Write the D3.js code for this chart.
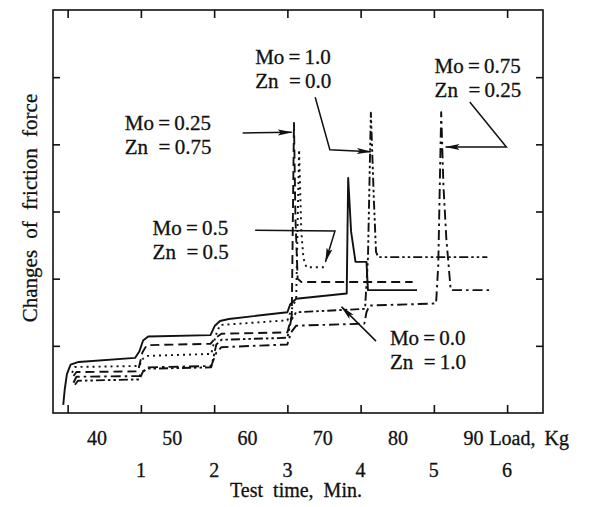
<!DOCTYPE html>
<html>
<head>
<meta charset="utf-8">
<script src="https://cdn.jsdelivr.net/npm/d3@7"></script>
<style>
  body { margin: 0; background: #fff; }
  svg { display: block; }
  text { font-family: "Liberation Serif", "Times New Roman", serif; fill: #111; stroke: #111; stroke-width: 0.3px; }
</style>
</head>
<body>
<div id="chart"></div>
<script>
// test time (min) and friction change (chart divisions)

// Mo=0.0, Zn=1.0 (solid)
var mo00_t = [-0.06, -0.04, -0.01, 0.04, 0.15, 0.92, 0.98, 1.03, 1.10, 1.95, 2.01, 2.08, 2.20, 3.00, 3.04, 3.12, 3.81, 3.83, 3.87, 3.93, 4.08, 4.10, 4.77];
var mo00_f = [0.12, 0.35, 0.58, 0.72, 0.76, 0.82, 0.92, 1.08, 1.14, 1.16, 1.30, 1.37, 1.40, 1.50, 1.62, 1.70, 1.78, 3.50, 2.70, 2.25, 2.25, 1.83, 1.83];

// Mo=0.25, Zn=0.75 (dashed)
var mo025_t = [0.08, 0.12, 0.96, 1.02, 1.08, 1.95, 2.02, 2.10, 3.00, 3.06, 3.09, 3.11, 3.14, 3.19, 4.71];
var mo025_f = [0.55, 0.61, 0.62, 0.90, 1.01, 1.03, 1.12, 1.18, 1.20, 1.45, 4.32, 2.90, 2.00, 1.95, 1.95];

// Mo=0.5, Zn=0.5 (dotted)
var mo05_t = [0.06, 0.10, 0.98, 1.02, 1.08, 1.96, 2.02, 2.08, 3.00, 3.06, 3.12, 3.16, 3.19, 3.22, 3.26, 3.50];
var mo05_f = [0.60, 0.685, 0.70, 0.80, 0.85, 0.88, 1.15, 1.31, 1.38, 1.55, 1.70, 3.92, 2.70, 2.30, 2.17, 2.17];

// Mo=0.75, Zn=0.25 (dash-dot)
var mo075_t = [0.08, 0.12, 0.98, 1.03, 1.10, 1.96, 2.03, 2.10, 3.00, 3.05, 3.12, 4.05, 4.08, 4.12, 5.03, 5.06, 5.10, 5.13, 5.17, 5.23, 5.76];
var mo075_f = [0.45, 0.54, 0.55, 0.62, 0.68, 0.70, 0.90, 0.98, 1.02, 1.20, 1.30, 1.33, 1.50, 1.60, 1.63, 2.20, 4.48, 3.40, 2.60, 1.83, 1.83];

// Mo=1.0, Zn=0.0 (dash-dot-dot)
var mo10_t = [0.10, 0.14, 0.98, 1.03, 1.10, 1.96, 2.03, 2.10, 3.00, 3.05, 3.12, 4.06, 4.10, 4.14, 4.18, 4.21, 4.24, 5.73];
var mo10_f = [0.42, 0.48, 0.50, 0.62, 0.66, 0.68, 1.02, 1.09, 1.12, 1.38, 1.50, 1.55, 2.30, 4.47, 3.20, 2.40, 2.32, 2.32];

var timeTicks = [0, 1, 2, 3, 4, 5, 6];
var timeLabels = [1, 2, 3, 4, 5, 6];
var loadLabels = [40, 50, 60, 70, 80, 90];
var forceTicks = [1, 2, 3, 4, 5];

// label text, its anchor (t, f) and the arrow path pointing at its curve
var labelLines = [
    ["Mo\u2009=\u20090.0", "Zn\u2002=\u20091.0"],
    ["Mo\u2009=\u20090.25", "Zn\u2002=\u20090.75"],
    ["Mo\u2009=\u20090.5", "Zn\u2002=\u20090.5"],
    ["Mo\u2009=\u20090.75", "Zn\u2002=\u20090.25"],
    ["Mo\u2009=\u20091.0", "Zn\u2002=\u20090.0"]
];
var labelAt = [[4.40, 1.01], [0.78, 4.21], [1.16, 2.65], [5.01, 5.06], [2.56, 5.20]];
var arrowPaths = [
    [[4.21, 1.07], [3.74, 1.58]],
    [[2.39, 4.17], [3.06, 4.18]],
    [[2.56, 2.72], [3.65, 2.71], [3.52, 2.25]],
    [[5.49, 4.63], [5.99, 3.96], [5.16, 3.96]],
    [[3.38, 4.70], [3.58, 3.92], [4.14, 3.89]]
];

var width = 597;
var height = 507;

var svg = d3.select("#chart")
    .append("svg")
    .attr("width", width)
    .attr("height", height);

var x = d3.scaleLinear().domain([-0.2, 6.49]).range([53, 543]);
var y = d3.scaleLinear().domain([0, 6]).range([413, 10]);
var loadToTime = d3.scaleLinear().domain([40, 90]).range([0.40, 5.54]);

svg.append("defs").append("marker")
    .attr("id", "head")
    .attr("markerUnits", "userSpaceOnUse")
    .attr("viewBox", "0 -4 15 8")
    .attr("refX", 14)
    .attr("refY", 0)
    .attr("markerWidth", 15)
    .attr("markerHeight", 8)
    .attr("orient", "auto")
    .append("path")
    .attr("d", "M0,-3L15,0L0,3L3,0Z")
    .attr("fill", "#111");

// frame
svg.append("rect")
    .attr("x", x(-0.2))
    .attr("y", y(6))
    .attr("width", x(6.49) - x(-0.2))
    .attr("height", y(0) - y(6))
    .attr("fill", "none")
    .attr("stroke", "#111")
    .attr("stroke-width", 1.6);

function ticks(axis) {
    return function(g) {
        g.call(axis);
        g.select(".domain").remove();
        g.selectAll("line").attr("stroke", "#111").attr("stroke-width", 1.6);
    };
}

svg.append("g").attr("transform", "translate(0," + y(0) + ")")
    .call(ticks(d3.axisBottom(x).tickValues(timeTicks).tickSize(-8).tickFormat("")));
svg.append("g").attr("transform", "translate(0," + y(6) + ")")
    .call(ticks(d3.axisTop(x).tickValues(timeTicks).tickSize(-8).tickFormat("")));
svg.append("g").attr("transform", "translate(" + x(-0.2) + ",0)")
    .call(ticks(d3.axisLeft(y).tickValues(forceTicks).tickSize(-7).tickFormat("")));
svg.append("g").attr("transform", "translate(" + x(6.49) + ",0)")
    .call(ticks(d3.axisRight(y).tickValues(forceTicks).tickSize(-7).tickFormat("")));

// curves
var series = [
    {t: mo00_t, f: mo00_f, dash: null},
    {t: mo025_t, f: mo025_f, dash: "9,5"},
    {t: mo05_t, f: mo05_f, dash: "2,4"},
    {t: mo075_t, f: mo075_f, dash: "10,4,2.5,4"},
    {t: mo10_t, f: mo10_f, dash: "9,3,2.5,3,2.5,3"}
];

var line = d3.line()
    .x(function(d) { return x(d[0]); })
    .y(function(d) { return y(d[1]); });

svg.selectAll("path.curve")
    .data(series)
    .enter().append("path")
    .attr("class", "curve")
    .attr("d", function(s) { return line(d3.zip(s.t, s.f)); })
    .attr("fill", "none")
    .attr("stroke", "#111")
    .attr("stroke-width", 1.9)
    .attr("stroke-linejoin", "round")
    .attr("stroke-dasharray", function(s) { return s.dash; });

// pointers
svg.selectAll("path.pointer")
    .data(arrowPaths)
    .enter().append("path")
    .attr("class", "pointer")
    .attr("d", line)
    .attr("fill", "none")
    .attr("stroke", "#111")
    .attr("stroke-width", 1.5)
    .attr("marker-end", "url(#head)");

// composition labels
var lab = svg.selectAll("g.label")
    .data(labelLines)
    .enter().append("g")
    .attr("class", "label")
    .attr("transform", function(d, i) {
        return "translate(" + x(labelAt[i][0]) + "," + y(labelAt[i][1]) + ")";
    });

lab.selectAll("text")
    .data(function(d) { return d; })
    .enter().append("text")
    .attr("y", function(d, i) { return i * 24; })
    .attr("font-size", 21)
    .text(function(d) { return d; });

// load labels
svg.selectAll("text.load")
    .data(loadLabels)
    .enter().append("text")
    .attr("class", "load")
    .attr("x", function(d) { return x(loadToTime(d)); })
    .attr("y", 445)
    .attr("text-anchor", "middle")
    .attr("font-size", 20)
    .text(function(d) { return d; });

svg.append("text")
    .attr("x", x(loadToTime(90)) + 16)
    .attr("y", 445)
    .attr("font-size", 20)
    .attr("word-spacing", 4)
    .text("Load, Kg");

// time labels
svg.selectAll("text.time")
    .data(timeLabels)
    .enter().append("text")
    .attr("class", "time")
    .attr("x", function(d) { return x(d); })
    .attr("y", 477)
    .attr("text-anchor", "middle")
    .attr("font-size", 20)
    .text(function(d) { return d; });

svg.append("text")
    .attr("x", 296)
    .attr("y", 497)
    .attr("text-anchor", "middle")
    .attr("font-size", 20)
    .attr("word-spacing", 5)
    .text("Test time, Min.");

svg.append("text")
    .attr("transform", "translate(37,208) rotate(-90)")
    .attr("text-anchor", "middle")
    .attr("font-size", 21)
    .attr("word-spacing", 6)
    .text("Changes of friction force");
</script>
</body>
</html>
